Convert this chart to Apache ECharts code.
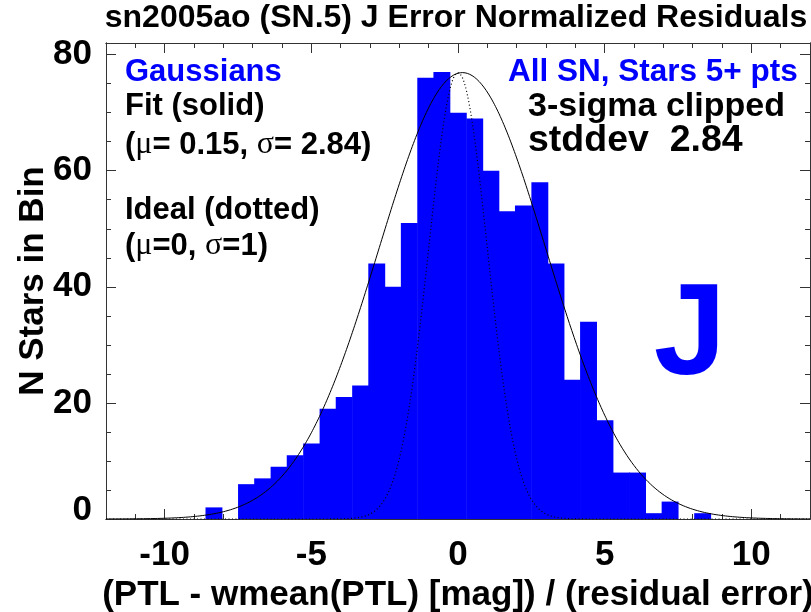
<!DOCTYPE html>
<html>
<head>
<meta charset="utf-8">
<script src="https://cdn.jsdelivr.net/npm/echarts@6/dist/echarts.min.js"></script>
<style>
  html, body { margin: 0; padding: 0; background: #ffffff; }
  #chart { width: 811px; height: 612px; }
</style>
</head>
<body>
<div id="chart"></div>
<script>
// Histogram of normalized residuals: bin centres and star counts per bin
const binCenters = [-8.33, -7.78, -7.22, -6.67, -6.11, -5.56, -5.00, -4.44, -3.89, -3.33,
                    -2.78, -2.22, -1.67, -1.11, -0.56, 0.00, 0.56, 1.11, 1.67, 2.22,
                    2.78, 3.33, 3.89, 4.44, 5.00, 5.56, 6.11, 6.67, 7.22, 7.78, 8.33];
const binCounts  = [2, 0, 6, 7, 9, 11, 13, 19, 21, 23,
                    44, 40, 51, 76, 77, 70, 69, 60, 53, 54,
                    58, 44, 24, 34, 17, 8, 8, 1, 3, 0, 1];
const binWidth = 0.556;

// Gaussian overlays (fit: solid, ideal unit normal: dotted)
const fitMu = 0.15, fitSigma = 2.84;
const idealMu = 0, idealSigma = 1;
const curvePeak = 76.9;

// Axis ranges and labelled ticks
const xRange = [-12, 12];
const yRange = [0, 82];
const xMajorTicks = [-10, -5, 0, 5, 10];
const yMajorTicks = [0, 20, 40, 60, 80];
const yUpperLabels = [20, 40, 60, 80];
const yBaseLabel = [0];

const FONT = "'Liberation Sans', Arial, Helvetica, sans-serif";
const AXIS_COLOR = '#333333';
const BAR_BLUE = '#0000ff';

function gaussianCurve(mu, sigma, peak) {
  const pts = [];
  for (let x = xRange[0]; x <= xRange[1] + 1e-9; x += 0.04) {
    pts.push([x, peak * Math.exp(-0.5 * Math.pow((x - mu) / sigma, 2))]);
  }
  return pts;
}

const histData = binCenters.map((c, i) => [c, binCounts[i]]);

const labelFont = { color: '#000', fontFamily: FONT, fontWeight: 'bold', fontSize: 35 };

function makeXAxis(position, major, withLabels) {
  return {
    type: 'value', position: position, min: xRange[0], max: xRange[1], interval: 1,
    axisLine: { show: true, onZero: false, lineStyle: { color: AXIS_COLOR, width: 1 } },
    axisTick: major
      ? { show: true, inside: true, length: 10, customValues: xMajorTicks, lineStyle: { color: AXIS_COLOR } }
      : { show: true, inside: true, length: 5, lineStyle: { color: AXIS_COLOR } },
    axisLabel: withLabels
      ? Object.assign({ show: true, customValues: xMajorTicks, margin: 19 }, labelFont)
      : { show: false },
    splitLine: { show: false },
    name: withLabels ? '(PTL - wmean(PTL) [mag]) / (residual error)' : '',
    nameLocation: 'middle', nameGap: 52,
    nameTextStyle: labelFont
  };
}

// labels: null (none), 'upper' (20..80, centred on ticks), 'base' (0, raised above the frame)
function makeYAxis(position, major, labels) {
  let axisLabel = { show: false };
  if (labels === 'upper') {
    axisLabel = Object.assign({ show: true, customValues: yUpperLabels, margin: 14 }, labelFont);
  } else if (labels === 'base') {
    axisLabel = Object.assign({ show: true, customValues: yBaseLabel, margin: 14,
      verticalAlign: 'bottom', lineHeight: 18 }, labelFont);
  }
  return {
    type: 'value', position: position, min: yRange[0], max: yRange[1], interval: 5,
    axisLine: { show: true, onZero: false, lineStyle: { color: AXIS_COLOR, width: 1 } },
    axisTick: major
      ? { show: true, inside: true, length: 10, customValues: yMajorTicks, lineStyle: { color: AXIS_COLOR } }
      : { show: true, inside: true, length: 5, lineStyle: { color: AXIS_COLOR } },
    axisLabel: axisLabel,
    splitLine: { show: false },
    name: labels === 'upper' ? 'N Stars in Bin' : '',
    nameLocation: 'middle', nameGap: 55, nameRotate: 90, nameMoveOverlap: false,
    nameTextStyle: labelFont
  };
}

const chart = echarts.init(document.getElementById('chart'), null, { renderer: 'canvas' });

const plotText = (text, x, y, size, color) => ({
  type: 'text', z: 50,
  style: {
    text: text, x: x, y: y, fill: color,
    font: 'bold ' + size + 'px ' + FONT,
    align: 'left', verticalAlign: 'middle'
  }
});

const greek = { fontFamily: "'Liberation Serif', 'Times New Roman', serif", fontWeight: 'normal', fontSize: 32, fill: '#000' };

chart.setOption({
  animation: false,
  backgroundColor: '#ffffff',
  grid: { left: 106, right: 1, top: 43, bottom: 93, containLabel: false, outerBoundsMode: 'none' },
  xAxis: [
    makeXAxis('bottom', false, true),
    makeXAxis('bottom', true, false),
    makeXAxis('top', false, false),
    makeXAxis('top', true, false)
  ],
  yAxis: [
    makeYAxis('left', false, 'upper'),
    makeYAxis('left', true, 'base'),
    makeYAxis('right', false, null),
    makeYAxis('right', true, null)
  ],
  series: [
    {
      type: 'custom', name: 'histogram', xAxisIndex: 0, yAxisIndex: 0,
      data: histData, encode: { x: 0, y: 1 }, clip: true, z: 2,
      renderItem: function (params, api) {
        const c = api.value(0), v = api.value(1);
        if (v <= 0) return null;
        const p0 = api.coord([c - binWidth / 2, v]);
        const p1 = api.coord([c + binWidth / 2, 0]);
        return {
          type: 'rect',
          shape: { x: p0[0], y: p0[1], width: p1[0] - p0[0] + 0.6, height: p1[1] - p0[1] },
          style: { fill: BAR_BLUE }
        };
      }
    },
    {
      type: 'line', name: 'fit', xAxisIndex: 0, yAxisIndex: 0, z: 5,
      data: gaussianCurve(fitMu, fitSigma, curvePeak),
      showSymbol: false, smooth: false, clip: true,
      lineStyle: { color: '#000', width: 1 }
    },
    {
      type: 'line', name: 'ideal', xAxisIndex: 0, yAxisIndex: 0, z: 5,
      data: gaussianCurve(idealMu, idealSigma, curvePeak),
      showSymbol: false, smooth: false, clip: true,
      lineStyle: { color: '#000', width: 1.2, type: [1, 2.5] }
    }
  ],
  graphic: [
    {
      type: 'text', z: 50,
      style: {
        text: 'sn2005ao (SN.5) J Error Normalized Residuals', x: 456, y: 18,
        fill: '#000', font: 'bold 32px ' + FONT, align: 'center', verticalAlign: 'middle'
      }
    },
    plotText('Gaussians', 125, 72, 31, BAR_BLUE),
    plotText('Fit (solid)', 125, 106, 31, '#000'),
    {
      type: 'text', z: 50,
      style: {
        text: '({g|μ}= 0.15, {g|σ}= 2.84)', x: 125, y: 145, fill: '#000',
        font: 'bold 31px ' + FONT, align: 'left', verticalAlign: 'middle',
        rich: { g: greek }
      }
    },
    plotText('Ideal (dotted)', 125, 210, 31, '#000'),
    {
      type: 'text', z: 50,
      style: {
        text: '({g|μ}=0, {g|σ}=1)', x: 125, y: 246, fill: '#000',
        font: 'bold 31px ' + FONT, align: 'left', verticalAlign: 'middle',
        rich: { g: greek }
      }
    },
    plotText('All SN, Stars 5+ pts', 508, 72, 31.5, BAR_BLUE),
    plotText('3-sigma clipped', 528, 107, 34, '#000'),
    plotText('stddev  2.84', 528, 141, 37.5, '#000'),
    {
      type: 'text', z: 50,
      style: {
        text: 'J', x: 690, y: 338, fill: BAR_BLUE,
        font: 'bold 130px ' + FONT, align: 'center', verticalAlign: 'middle'
      }
    }
  ]
});
</script>
</body>
</html>
